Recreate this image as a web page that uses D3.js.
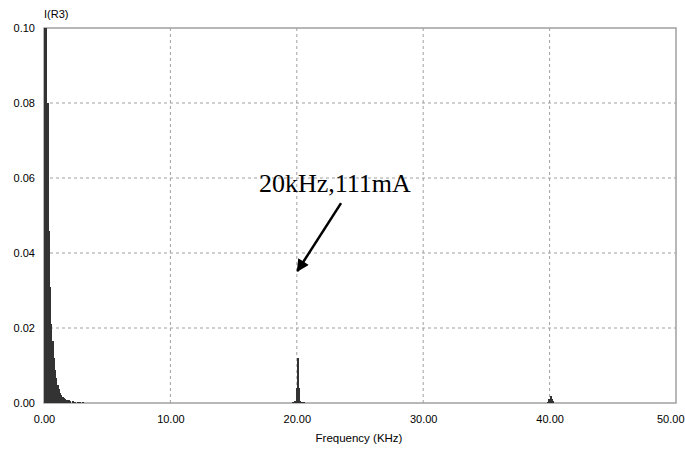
<!DOCTYPE html>
<html>
<head>
<meta charset="utf-8">
<script src="https://cdn.jsdelivr.net/npm/d3@7"></script>
<style>
  body { margin: 0; background: #fff; }
  .tick text { font-family: "Liberation Sans", Arial, sans-serif; font-size: 11px; fill: #000; }
</style>
</head>
<body>
<svg id="chart" width="685" height="449"></svg>
<script>
// spectrum bins, kHz / A
var freqs = [0.0, 0.1, 0.2, 0.3, 0.4, 0.5, 0.6, 0.7, 0.8, 0.9,
             1.0, 1.1, 1.2, 1.3, 1.4, 1.5, 1.6, 1.7, 1.8, 1.9,
             2.0, 2.2, 2.4, 2.6, 2.8, 3.0,
             19.6, 19.7, 19.8, 19.9, 20.0, 20.1, 20.2, 20.3, 20.4, 20.5,
             39.8, 39.9, 40.0, 40.1, 40.2];
var amps  = [0.100, 0.100, 0.080, 0.046, 0.031, 0.021, 0.0165, 0.012, 0.0088, 0.0066,
             0.0048, 0.0038, 0.0028, 0.0021, 0.0016, 0.0013, 0.0011, 0.0009, 0.0008, 0.0007,
             0.0006, 0.0005, 0.0004, 0.0004, 0.0003, 0.0002,
             0.0003, 0.0004, 0.0005, 0.004, 0.012, 0.004, 0.0005, 0.0004, 0.0003, 0.0002,
             0.0004, 0.0010, 0.0020, 0.0012, 0.0006];
var binWidth = 0.1;

var xTicks = [0, 10, 20, 30, 40, 50];
var yTicks = [0, 0.02, 0.04, 0.06, 0.08, 0.10];

var xLabel = "Frequency (KHz)";
var yLabel = "I(R3)";
var noteText = "20kHz,111mA";
// annotation in data units: text anchor, arrow start, arrow tip
var notePos = [17.0, 0.0563];
var arrowFrom = [23.5, 0.0533];
var arrowTo = [20.05, 0.0352];

var margin = {top: 28, right: 9, bottom: 46, left: 44};
var width = 685 - margin.left - margin.right;
var height = 449 - margin.top - margin.bottom;

var svg = d3.select("#chart");
var g = svg.append("g").attr("transform", "translate(" + margin.left + "," + margin.top + ")");

var x = d3.scaleLinear().domain([0, 50]).range([0, width]);
var y = d3.scaleLinear().domain([0, 0.10]).range([height, 0]);

// grid
g.append("g").selectAll("line")
  .data(xTicks.slice(1, -1))
  .join("line")
  .attr("x1", d => x(d)).attr("x2", d => x(d))
  .attr("y1", 0).attr("y2", height)
  .attr("stroke", "#a0a0a0").attr("stroke-dasharray", "3,3");

g.append("g").selectAll("line")
  .data(yTicks.slice(1, -1))
  .join("line")
  .attr("x1", 0).attr("x2", width)
  .attr("y1", d => y(d)).attr("y2", d => y(d))
  .attr("stroke", "#a0a0a0").attr("stroke-dasharray", "3,3");

// frame
g.append("rect")
  .attr("x", 0).attr("y", 0)
  .attr("width", width).attr("height", height)
  .attr("fill", "none").attr("stroke", "#a0a0a0").attr("stroke-width", 1.5);

// spectrum bars
var bins = freqs.map(function(f, i) { return {f: f, a: amps[i]}; });
g.append("g").attr("shape-rendering", "crispEdges").selectAll("rect")
  .data(bins)
  .join("rect")
  .attr("x", d => x(d.f))
  .attr("width", d => x(d.f + binWidth) - x(d.f) + 0.8)
  .attr("y", d => y(d.a))
  .attr("height", d => y(0) - y(d.a))
  .attr("fill", "#333");

// axes
var xAxis = d3.axisBottom(x).tickValues(xTicks).tickFormat(d3.format(".2f")).tickSize(0).tickPadding(12);
var yAxis = d3.axisLeft(y).tickValues(yTicks).tickFormat(d3.format(".2f")).tickSize(0).tickPadding(9);

g.append("g").attr("transform", "translate(0," + height + ")").call(xAxis)
  .call(s => s.select(".domain").remove())
  .call(s => s.selectAll(".tick").filter(d => d === 50).select("text")
    .attr("text-anchor", "end").attr("x", 8));
g.append("g").call(yAxis)
  .call(s => s.select(".domain").remove());

g.append("text")
  .attr("x", width / 2 - 1).attr("y", height + 39)
  .attr("text-anchor", "middle")
  .attr("font-family", "Liberation Sans, Arial, sans-serif")
  .attr("font-size", 11.5)
  .text(xLabel);

g.append("text")
  .attr("x", 0).attr("y", -10)
  .attr("font-family", "Liberation Sans, Arial, sans-serif")
  .attr("font-size", 11)
  .text(yLabel);

// annotation
svg.append("defs").append("marker")
  .attr("id", "head")
  .attr("viewBox", "0 0 10 10")
  .attr("refX", 9).attr("refY", 5)
  .attr("markerWidth", 6).attr("markerHeight", 5)
  .attr("markerUnits", "strokeWidth")
  .attr("orient", "auto")
  .append("path").attr("d", "M0,0L10,5L0,10z").attr("fill", "#000");

g.append("line")
  .attr("x1", x(arrowFrom[0])).attr("y1", y(arrowFrom[1]))
  .attr("x2", x(arrowTo[0])).attr("y2", y(arrowTo[1]))
  .attr("stroke", "#000").attr("stroke-width", 2.5)
  .attr("marker-end", "url(#head)");

g.append("text")
  .attr("x", x(notePos[0])).attr("y", y(notePos[1]))
  .attr("font-family", "Liberation Serif, Times New Roman, serif")
  .attr("font-size", 26)
  .text(noteText);
</script>
</body>
</html>
